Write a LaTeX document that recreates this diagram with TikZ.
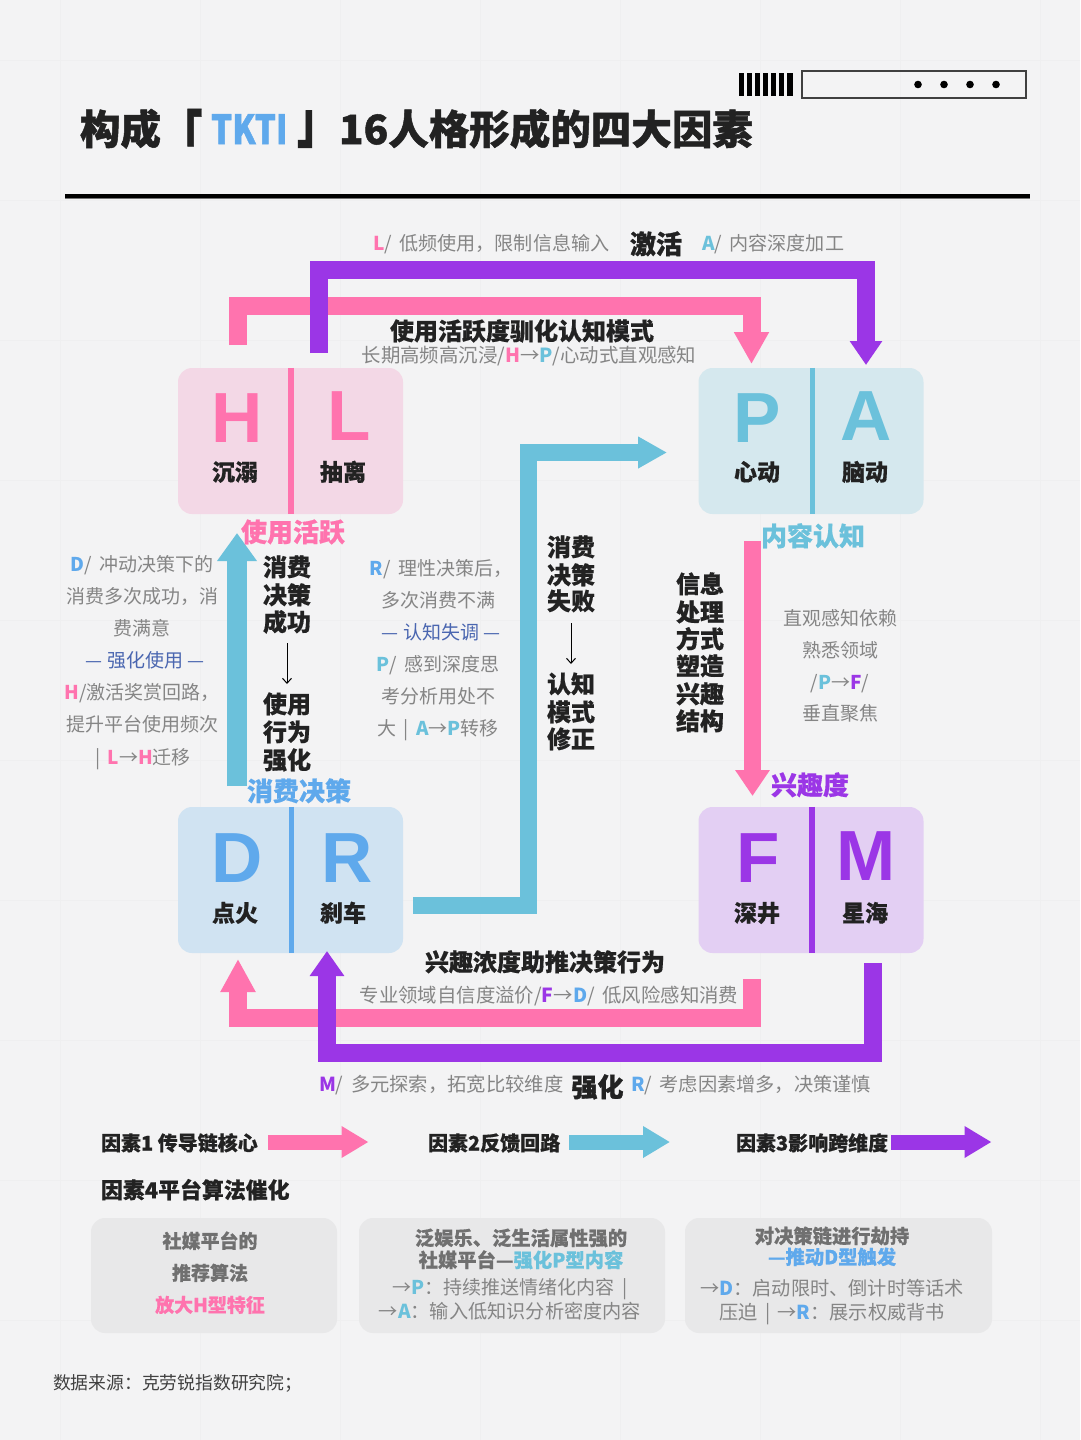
\documentclass[tikz,border=0pt]{standalone}
\usepackage{fontspec}
\usepackage{graphicx}
\usetikzlibrary{arrows.meta}
\setmainfont{Noto Sans CJK SC}
\newfontfamily\hvf{Noto Sans CJK SC}[BoldFeatures={FakeBold=0.5}]
\newfontfamily\hvg{Noto Sans CJK SC}[BoldFeatures={FakeBold=1.2}]
\newfontfamily\lib{Liberation Sans}
\definecolor{cpink}{HTML}{FF73AE}
\definecolor{cteal}{HTML}{6BC1DB}
\definecolor{cpurp}{HTML}{9B36E6}
\definecolor{cblue}{HTML}{5FA9EC}
\definecolor{cnavy}{HTML}{4A66B0}
\definecolor{cbg}{HTML}{F3F3F4}
\definecolor{cgrid}{HTML}{EFEFF0}
\definecolor{cbody}{HTML}{858585}
\definecolor{cdark}{HTML}{222222}
\definecolor{cgbox}{HTML}{E8E8E9}
\definecolor{cghead}{HTML}{707070}
\definecolor{bpink}{HTML}{F3D8E6}
\definecolor{bteal}{HTML}{D5E8EE}
\definecolor{bblue}{HTML}{D0E3F2}
\definecolor{bpurp}{HTML}{E3CFF3}
\newcounter{tc}
\newcommand{\TT}[5][]{\stepcounter{tc}\node[tx,#1,font=\fontsize{#4}{#4}\selectfont] (t\arabic{tc}) at ({#2},{#3+.375*#4}) {#5};}
\newcommand{\PK}[1]{\textcolor{cpink}{\bfseries #1}}
\newcommand{\TL}[1]{\textcolor{cteal}{\bfseries #1}}
\newcommand{\PU}[1]{\textcolor{cpurp}{\bfseries #1}}
\newcommand{\BL}[1]{\textcolor{cblue}{\bfseries #1}}
\newcommand{\fc}{\symbol{"FF0C}}
\newcommand{\fn}{\symbol{"FF1A}}
\newcommand{\fs}{\symbol{"FF1B}}
\tikzset{
  x=1pt,y=-1pt,
  tx/.style={anchor=base,inner sep=0pt,outer sep=0pt},
  body/.style={text=cbody},
  head/.style={text=cdark,execute at begin node=\hvf\bfseries},
  heavy/.style={text=cdark,execute at begin node=\hvg\bfseries},
  biglet/.style={execute at begin node=\lib\bfseries},
  card/.style={rounded corners=14pt,minimum width=225pt,minimum height=146pt,inner sep=0pt,draw=none},
  gcard/.style={rounded corners=14pt,minimum height=115pt,inner sep=0pt,draw=none,fill=cgbox},
  link/.style={line width=18pt,line join=miter},
}
\begin{document}
\begin{tikzpicture}
\useasboundingbox (0,0) rectangle (1080,1440);
\fill[cbg] (0,0) rectangle (1080,1440);
\foreach \g in {60,200,340,480,620,760,900,1040} \draw[cgrid,line width=.8pt] (\g,0) -- (\g,1440);
\foreach \g in {60,200,340,480,620,760,900,1040,1180,1320} \draw[cgrid,line width=.8pt] (0,\g) -- (1080,\g);

% header
\foreach \g in {741.5,749.5,757.5,765.5,773.5,781.5,790} \fill[black] (\g-2.8,73) rectangle (\g+2.8,96);
\node[draw=black!75,line width=1.1pt,fill=none,minimum width=224pt,minimum height=27pt,inner sep=0pt] (hbox) at (914,84.5) {};
\foreach \g in {918,944,970,996} \fill[black] (\g,84.5) circle (3.8pt);
\TT[heavy,anchor=base west]{80}{129}{40.5}{构成}
\TT[heavy,anchor=base west]{162}{144}{40.5}{\scalebox{1}[1.45]{「}}
\TT[heavy,anchor=base west,text=cblue]{211}{129}{40.5}{\scalebox{.82}[1]{TKTI}}
\TT[heavy,anchor=base west]{297}{127}{40.5}{\scalebox{1}[1.45]{」}}
\TT[heavy,anchor=base west]{339}{129}{40.5}{16人格形成的四大因素}
\fill[black] (65,193.5) rectangle (1030,197.5);
\fill[black!55] (65,198) rectangle (1030,199);

% cards
\node[card,fill=bpink] (hl) at (290.5,441) {};
\node[card,fill=bteal] (pa) at (811,441) {};
\node[card,fill=bblue] (dr) at (290.5,880) {};
\node[card,fill=bpurp] (fm) at (811,880) {};
\draw[cpink,line width=6pt] ([xshift=.5pt]hl.north) -- ([xshift=.5pt]hl.south);
\draw[cteal,line width=5pt] ([xshift=1pt]pa.north) -- ([xshift=1pt]pa.south);
\draw[cblue,line width=5pt] ([xshift=1pt]dr.north) -- ([xshift=1pt]dr.south);
\draw[cpurp,line width=6pt] ([xshift=1pt]fm.north) -- ([xshift=1pt]fm.south);

% connector anchors
\coordinate (pa1) at (238,345); \coordinate (pa2) at (238,306); \coordinate (pa3) at (751.5,306); \coordinate (pa4) at (751.5,364);
\coordinate (pb1) at (319,353); \coordinate (pb2) at (319,269.5); \coordinate (pb3) at (866,269.5); \coordinate (pb4) at (866,365);
\coordinate (pc1) at (752,979); \coordinate (pc2) at (752,1018); \coordinate (pc3) at (238,1018); \coordinate (pc4) at (238,959);
\coordinate (pd1) at (872.5,963); \coordinate (pd2) at (872.5,1052.5); \coordinate (pd3) at (327,1052.5); \coordinate (pd4) at (327,951);
\coordinate (pe1) at (413,905); \coordinate (pe2) at (528,905); \coordinate (pe3) at (528,452.5); \coordinate (pe4) at (667,452.5);
\coordinate (pf1) at (237,786); \coordinate (pf2) at (237,533);
\coordinate (pg1) at (752.5,541); \coordinate (pg2) at (752.5,796);

\draw[link,cpink,-{Triangle[length=32pt,width=33pt]}] (pa1) -- (pa2) -- (pa3) -- (pa4);
\draw[link,cpurp,-{Triangle[length=24pt,width=31pt]}] (pb1) -- (pb2) -- (pb3) -- (pb4);
\draw[link,cpink,-{Triangle[length=33pt,width=33pt]}] (pc1) -- (pc2) -- (pc3) -- (pc4);
\draw[link,cpurp,-{Triangle[length=25pt,width=33pt]}] (pd1) -- (pd2) -- (pd3) -- (pd4);
\draw[link,cteal,line width=17pt,-{Triangle[length=29pt,width=30pt]}] (pe1) -- (pe2) -- (pe3) -- (pe4);
\draw[link,cteal,line width=20pt,-{Triangle[length=28pt,width=38pt]}] (pf1) -- (pf2);
\draw[link,cpink,line width=17pt,-{Triangle[length=26pt,width=33pt]}] (pg1) -- (pg2);

% card letters
\TT[biglet,text=cpink]{237}{416}{71}{H}
\TT[biglet,text=cpink]{349}{414}{71}{L}
\TT[biglet,text=cteal]{757}{416}{71}{P}
\TT[biglet,text=cteal]{866}{414}{71}{A}
\TT[biglet,text=cblue]{237}{856}{71}{D}
\TT[biglet,text=cblue]{347}{856}{71}{R}
\TT[biglet,text=cpurp]{758}{856}{71}{F}
\TT[biglet,text=cpurp]{866}{854}{71}{M}
\TT[head]{235}{472}{23}{沉溺}
\TT[head]{343}{472}{23}{抽离}
\TT[head]{757}{472}{23}{心动}
\TT[head]{865}{472}{23}{脑动}
\TT[head]{235}{913}{23}{点火}
\TT[head]{343}{913}{23}{刹车}
\TT[head]{757}{913}{23}{深井}
\TT[head]{865}{913}{23}{星海}
\TT[head,text=cpink]{293}{532}{26}{使用活跃}
\TT[head,text=cteal]{813}{536}{26}{内容认知}
\TT[head,text=cblue]{299}{791}{26}{消费决策}
\TT[head,text=cpurp]{810}{785}{26}{兴趣度}

% top labels
\TT[body,anchor=base west]{373}{243}{19.1}{\PK{L}/ \,低频使用\fc 限制信息输入}
\TT[heavy]{656}{244}{26}{激活}
\TT[body,anchor=base west]{702}{243}{19.1}{\TL{A}/ \,内容深度加工}
\TT[head]{522}{331}{24}{使用活跃度驯化认知模式}
\TT[body]{529}{355}{19.4}{长期高频高沉浸/\PK{H}→\TL{P}/心动式直观感知}

% left col
\TT[body]{142}{564}{19}{\BL{D}/ \,冲动决策下的}
\TT[body]{142}{596}{19}{消费多次成功\fc 消}
\TT[body]{142}{628}{19}{费满意}
\TT[body,text=cnavy]{145}{660}{19}{— 强化使用 —}
\TT[body]{142}{692}{19}{\PK{H}/激活奖赏回路\fc}
\TT[body]{142}{724}{19}{提升平台使用频次}
\TT[body]{143}{757}{19}{| \,\PK{L}→\PK{H}迁移}
% decision col
\TT[head]{287}{567}{24}{消费}
\TT[head]{287}{595}{24}{决策}
\TT[head]{287}{622}{24}{成功}
\coordinate (aa1) at (287,643); \coordinate (aa2) at (287,684);
\draw[black,line width=1pt,-{Straight Barb[length=5pt,width=9pt]}] (aa1) -- (aa2);
\TT[head]{287}{704}{24}{使用}
\TT[head]{287}{732}{24}{行为}
\TT[head]{287}{760}{24}{强化}
% right of it
\TT[body]{441}{568}{19}{\BL{R}/ \,理性决策后\fc}
\TT[body]{438}{600}{19}{多次消费不满}
\TT[body,text=cnavy]{441}{632}{19}{— 认知失调 —}
\TT[body]{438}{664}{19}{\TL{P}/ \,感到深度思}
\TT[body]{438}{696}{19}{考分析用处不}
\TT[body]{438}{728}{19}{大 \,| \,\TL{A}→\TL{P}转移}
% failure col
\TT[head]{571}{547}{24}{消费}
\TT[head]{571}{575}{24}{决策}
\TT[head]{571}{601}{24}{失败}
\coordinate (ab1) at (571,623); \coordinate (ab2) at (571,664);
\draw[black,line width=1pt,-{Straight Barb[length=5pt,width=9pt]}] (ab1) -- (ab2);
\TT[head]{571}{684}{24}{认知}
\TT[head]{571}{712}{24}{模式}
\TT[head]{571}{739}{24}{修正}
% info col
\TT[head]{700}{584}{24}{信息}
\TT[head]{700}{612}{24}{处理}
\TT[head]{700}{639}{24}{方式}
\TT[head]{700}{666}{24}{塑造}
\TT[head]{700}{694}{24}{兴趣}
\TT[head]{700}{721}{24}{结构}
\TT[body]{840}{618}{19}{直观感知依赖}
\TT[body]{840}{650}{19}{熟悉领域}
\TT[body]{840}{682}{19}{/\TL{P}→\PU{F}/}
\TT[body]{840}{713}{19}{垂直聚焦}

% bottom labels
\TT[head]{545}{962}{24}{兴趣浓度助推决策行为}
\TT[body]{549}{995}{19.4}{专业领域自信度溢价/\PU{F}→\BL{D}/ \,低风险感知消费}
\TT[body,anchor=base west]{319}{1084}{19.3}{\PU{M}/ \,多元探索\fc 拓宽比较维度}
\TT[heavy]{597.5}{1087}{26}{强化}
\TT[body,anchor=base west]{631}{1084}{19.2}{\BL{R}/ \,考虑因素增多\fc 决策谨慎}

% legend
\TT[head,anchor=base west]{101}{1143}{20}{因素1 传导链核心}
\TT[head,anchor=base west]{428}{1143}{20}{因素2反馈回路}
\TT[head,anchor=base west]{736}{1143}{20}{因素3影响跨维度}
\TT[head,anchor=base west]{101}{1190}{21.9}{因素4平台算法催化}
\coordinate (la1) at (268,1142); \coordinate (la2) at (368.5,1142);
\coordinate (lb1) at (569,1142); \coordinate (lb2) at (670,1142);
\coordinate (lc1) at (891,1142); \coordinate (lc2) at (991.5,1142);
\draw[link,line width=15pt,cpink,-{Triangle[length=27pt,width=30pt]}] (la1) -- (la2);
\draw[link,line width=15pt,cteal,-{Triangle[length=27pt,width=30pt]}] (lb1) -- (lb2);
\draw[link,line width=15pt,cpurp,-{Triangle[length=27pt,width=30pt]}] (lc1) -- (lc2);

% grey cards
\node[gcard,minimum width=246pt] (g1) at (214,1275.5) {};
\node[gcard,minimum width=306pt] (g2) at (512,1275.5) {};
\node[gcard,minimum width=307pt] (g3) at (838.5,1275.5) {};
\TT[head,text=cghead]{210}{1241}{19}{社媒平台的}
\TT[head,text=cghead]{210}{1273}{19}{推荐算法}
\TT[head,text=cpink]{210}{1305}{19}{放大H型特征}
\TT[head,text=cghead]{521}{1238}{19.3}{泛娱乐、泛生活属性强的}
\TT[head,text=cghead]{521}{1260}{19.3}{社媒平台—\textcolor{cteal}{强化P型内容}}
\TT[body]{510}{1287}{19}{→\TL{P}\fn 持续推送情绪化内容 \,|}
\TT[body]{510}{1311}{19.2}{→\TL{A}\fn 输入低知识分析密度内容}
\TT[head,text=cghead]{832}{1236}{19.3}{对决策链进行劫持}
\TT[head,text=cblue]{832}{1257}{19.3}{—推动D型触发}
\TT[body]{832}{1288}{19.2}{→\BL{D}\fn 启动限时、倒计时等话术}
\TT[body]{832}{1312}{19.2}{压迫 \,| \,→\BL{R}\fn 展示权威背书}

\TT[anchor=base west,text=black!75]{53}{1383}{17.8}{数据来源\fn 克劳锐指数研究院\fs}
\end{tikzpicture}
\end{document}
